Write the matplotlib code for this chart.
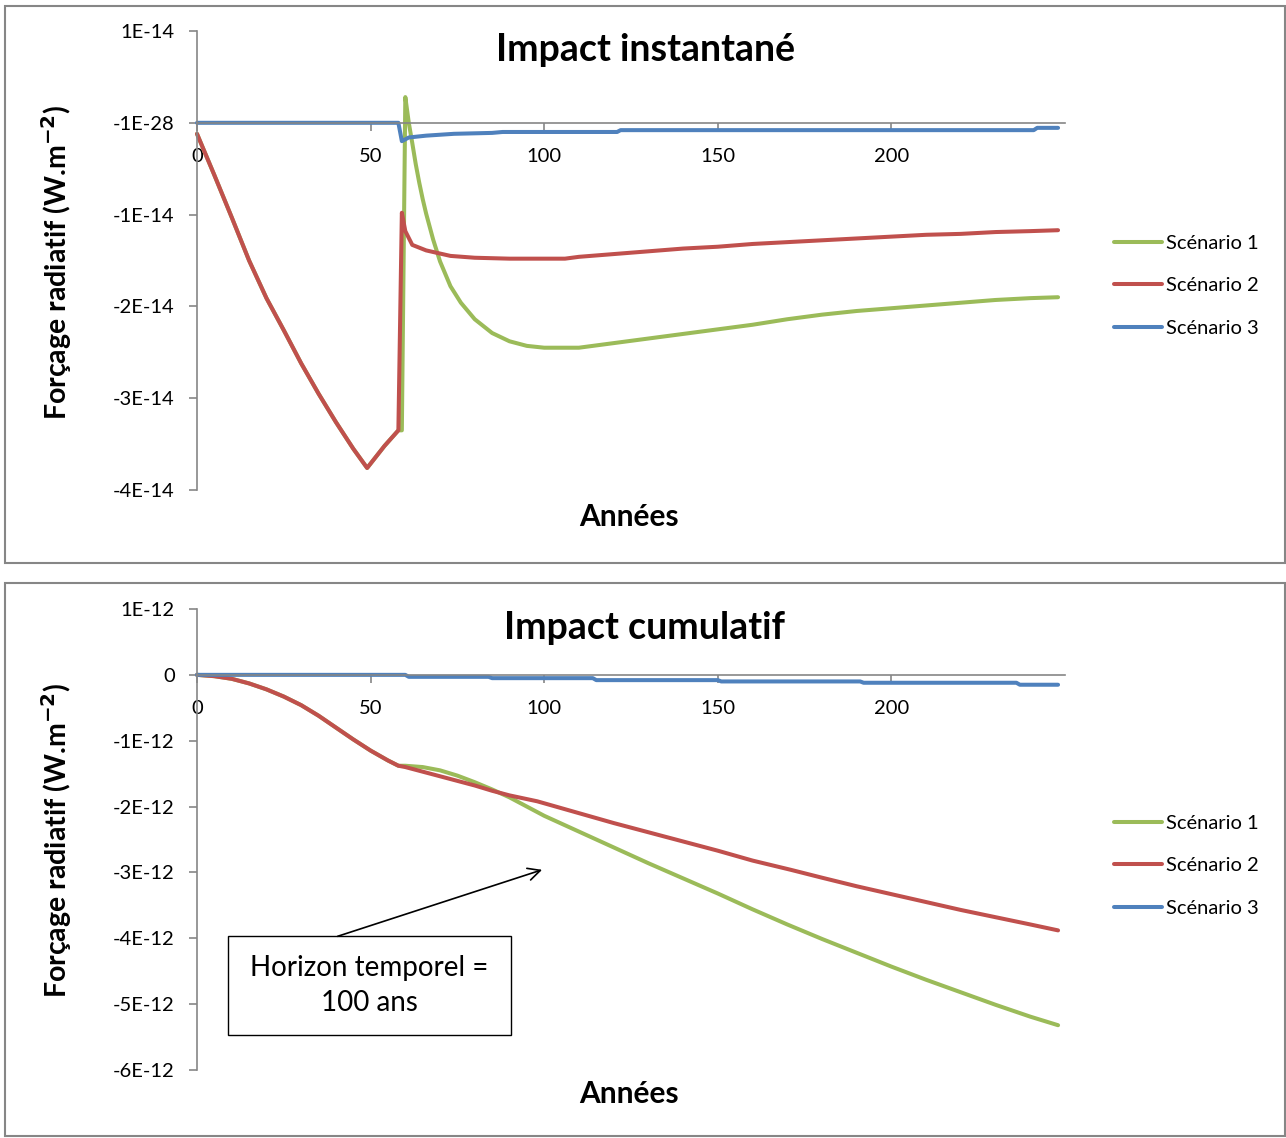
import matplotlib
matplotlib.use('Agg')
import matplotlib.pyplot as plt
from matplotlib.patches import Rectangle

plt.rcParams['font.family'] = ['Lato', 'DejaVu Sans']

# --- Data ---
LABELS = ["Scénario 1", "Scénario 2", "Scénario 3"]
COLORS = ["#9BBB59", "#C0504D", "#4F81BD"]

# instantaneous forcing, in units of 1E-14 W.m-2 (scenarios 1 & 2 share years 0-58)
years_inst_common = [0, 5, 10, 15, 20, 25, 30, 35, 40, 45, 49, 54, 58]
inst_common = [-0.12, -0.57, -1.03, -1.50, -1.91, -2.26, -2.62, -2.95, -3.26, -3.55, -3.76, -3.52, -3.35]

years_inst_s1 = [59, 60, 61, 62, 63, 64, 65, 66, 68, 70, 73, 76, 80, 85, 90, 95, 100, 110,
                 120, 130, 140, 150, 160, 170, 180, 190, 200, 210, 220, 230, 240, 248]
inst_s1 = [-3.35, 0.28, 0.0, -0.22, -0.45, -0.65, -0.83, -0.99, -1.27, -1.51, -1.78, -1.96, -2.14,
           -2.29, -2.38, -2.43, -2.45, -2.45, -2.40, -2.35, -2.30, -2.25, -2.20, -2.14, -2.09,
           -2.05, -2.02, -1.99, -1.96, -1.93, -1.91, -1.90]

years_inst_s2 = [59, 60, 62, 66, 73, 80, 90, 100, 106, 110, 120, 130, 140, 150, 160, 170, 180,
                 190, 200, 210, 220, 230, 240, 248]
inst_s2 = [-0.98, -1.18, -1.33, -1.39, -1.45, -1.47, -1.48, -1.48, -1.48, -1.46, -1.43, -1.40,
           -1.37, -1.35, -1.32, -1.30, -1.28, -1.26, -1.24, -1.22, -1.21, -1.19, -1.18, -1.17]

years_inst_s3 = [0, 58, 59, 61, 66, 74, 85, 88, 121, 122, 241, 242, 248]
inst_s3 = [0, 0, -0.20, -0.16, -0.14, -0.12, -0.11, -0.10, -0.10, -0.08, -0.08, -0.055, -0.055]

# cumulative forcing, in units of 1E-12 W.m-2
years_cum_common = [0, 5, 10, 15, 20, 25, 30, 35, 40, 45, 50, 55, 58]
cum_common = [0, -0.02, -0.06, -0.13, -0.22, -0.33, -0.46, -0.62, -0.80, -0.98, -1.15, -1.30, -1.38]

years_cum_s1 = [60, 65, 70, 75, 80, 85, 90, 100, 110, 120, 130, 140, 150, 160, 170, 180, 190,
                200, 210, 220, 230, 240, 248]
cum_s1 = [-1.38, -1.40, -1.45, -1.53, -1.63, -1.74, -1.86, -2.14, -2.38, -2.62, -2.86, -3.09,
          -3.32, -3.56, -3.79, -4.01, -4.22, -4.43, -4.63, -4.82, -5.01, -5.19, -5.32]

years_cum_s2 = [60, 65, 70, 75, 80, 85, 90, 98, 110, 120, 130, 140, 150, 160, 171, 180, 190,
                200, 210, 220, 230, 240, 248]
cum_s2 = [-1.40, -1.47, -1.54, -1.61, -1.68, -1.76, -1.83, -1.92, -2.10, -2.25, -2.39, -2.53,
          -2.67, -2.82, -2.96, -3.08, -3.21, -3.33, -3.45, -3.57, -3.68, -3.79, -3.88]

years_cum_s3 = [0, 60, 61, 84, 85, 114, 115, 150, 151, 191, 192, 236, 237, 248]
cum_s3 = [0, 0, -0.03, -0.03, -0.05, -0.05, -0.08, -0.08, -0.10, -0.10, -0.12, -0.12, -0.15, -0.15]

x_ticks = [0, 50, 100, 150, 200]
y_ticks_inst = [1, 0, -1, -2, -3, -4]
y_labels_inst = ["1E-14", "-1E-28", "-1E-14", "-2E-14", "-3E-14", "-4E-14"]
y_ticks_cum = [1, 0, -1, -2, -3, -4, -5, -6]
y_labels_cum = ["1E-12", "0", "-1E-12", "-2E-12", "-3E-12", "-4E-12", "-5E-12", "-6E-12"]

# --- Figure ---
W, H = 1286, 1138
fig = plt.figure(figsize=(W / 100, H / 100), dpi=100)
GRAY = "#868686"


def px_box(x0, y0, x1, y1):
    return [x0 / W, 1 - y1 / H, (x1 - x0) / W, (y1 - y0) / H]


def style_axes(ax, yticks, ylabels, ylim):
    ax.set_xlim(0, 250)
    ax.set_ylim(*ylim)
    for s in ["top", "right"]:
        ax.spines[s].set_visible(False)
    ax.spines["bottom"].set_position(("data", 0))
    for s in ["left", "bottom"]:
        ax.spines[s].set_color(GRAY)
        ax.spines[s].set_linewidth(1.2)
    ax.set_xticks(x_ticks)
    ax.set_xticklabels([str(v) for v in x_ticks])
    ax.set_yticks(yticks)
    ax.set_yticklabels(ylabels)
    ax.tick_params(axis="x", length=6, width=1.2, color=GRAY, pad=12, labelsize=14.5)
    ax.tick_params(axis="y", length=6, width=1.2, color=GRAY, pad=10, labelsize=14.5)


def draw_panel(ax, series, title, ytitle_y, xlabel_y, title_y, legend_y):
    lines = []
    for (xs, ys), lab, col in zip(series, LABELS, COLORS):
        ln, = ax.plot(xs, ys, color=col, lw=2.9, label=lab, solid_joinstyle="round",
                      solid_capstyle="round", clip_on=False)
        lines.append(ln)
    fig.text(645 / W, 1 - title_y / H, title, ha="center", va="center",
             fontsize=27, fontweight="bold")
    fig.text(629 / W, 1 - xlabel_y / H, "Années", ha="center", va="center",
             fontsize=21.5, fontweight="bold")
    fig.text(57 / W, 1 - ytitle_y / H, "Forçage radiatif (W.m$^{\\mathbf{-2}}$)", ha="center",
             va="center", rotation=90, fontsize=20.5, fontweight="bold")
    fig.legend(handles=lines, loc="upper left", bbox_to_anchor=(1096 / W, 1 - legend_y / H),
               frameon=False, fontsize=14.5, handlelength=2.4, handletextpad=0.2,
               labelspacing=1.25)


# top panel: instantaneous
ax1 = fig.add_axes(px_box(197, 31, 1065, 490))
style_axes(ax1, y_ticks_inst, y_labels_inst, (-4, 1))
draw_panel(ax1,
           [(years_inst_common + years_inst_s1, inst_common + inst_s1),
            (years_inst_common + years_inst_s2, inst_common + inst_s2),
            (years_inst_s3, inst_s3)],
           "Impact instantané", 262, 517, 50, 217)

# bottom panel: cumulative
ax2 = fig.add_axes(px_box(197, 609, 1065, 1070))
style_axes(ax2, y_ticks_cum, y_labels_cum, (-6, 1))
draw_panel(ax2,
           [(years_cum_common + years_cum_s1, cum_common + cum_s1),
            (years_cum_common + years_cum_s2, cum_common + cum_s2),
            (years_cum_s3, cum_s3)],
           "Impact cumulatif", 840, 1094, 628, 797)

# annotation box + arrow
ax2.add_patch(Rectangle((8.9, -5.47), 81.6, 1.50, fill=False, edgecolor="black", lw=1.0,
                        clip_on=False, zorder=5))
ax2.text(49.7, -4.72, "Horizon temporel =\n100 ans", ha="center", va="center", fontsize=20,
         linespacing=1.45, zorder=5)
ax2.annotate("", xy=(99.4, -2.96), xytext=(40.5, -3.97),
             arrowprops=dict(arrowstyle="->", lw=1.2, color="black", mutation_scale=22,
                             shrinkA=0, shrinkB=0))

# chart frames
for y0, y1 in [(6, 563), (583, 1136)]:
    fig.patches.append(Rectangle((5 / W, 1 - y1 / H), 1280 / W, (y1 - y0) / H,
                                 transform=fig.transFigure, fill=False, edgecolor=GRAY,
                                 lw=1.5))

fig.savefig("out.png", dpi=100)
